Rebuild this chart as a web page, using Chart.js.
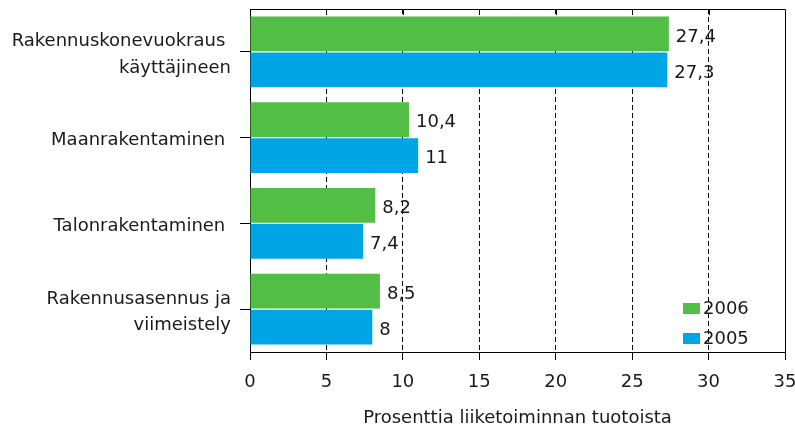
<!DOCTYPE html>
<html>
<head>
<meta charset="utf-8">
<script src="https://cdn.jsdelivr.net/npm/chart.js@4.4.1/dist/chart.umd.min.js"></script>
<style>
  html, body { margin: 0; padding: 0; background: #fff; }
  #wrap { width: 795px; height: 433px; position: relative; }
</style>
</head>
<body>
<div id="wrap"><canvas id="chart"></canvas></div>
<script>
const categories = [
    ['Rakennuskonevuokraus ', 'käyttäjineen'],
    'Maanrakentaminen ',
    'Talonrakentaminen ',
    ['Rakennusasennus ja', 'viimeistely']
];
const values2006 = [27.4, 10.4, 8.2, 8.5];
const values2005 = [27.3, 11, 7.4, 8];
const seriesLabels = ['2006', '2005'];
const xTicks = [0, 5, 10, 15, 20, 25, 30, 35];

const GREEN = '#52be45';
const BLUE = '#00a5e5';
const TEXT = '#1a1a1a';
const FONT = 'DejaVu Sans';

// value labels at the end of each bar
const valueLabels = {
    id: 'valueLabels',
    afterDatasetsDraw(chart) {
        const ctx = chart.ctx;
        ctx.save();
        ctx.font = `18px "${FONT}"`;
        ctx.fillStyle = TEXT;
        ctx.textBaseline = 'middle';
        chart.data.datasets.forEach((ds, i) => {
            chart.getDatasetMeta(i).data.forEach((bar, j) => {
                const txt = String(ds.data[j]).replace('.', ',');
                ctx.fillText(txt, bar.x + 7, bar.y + 3);
            });
        });
        ctx.restore();
    }
};

// top/right frame, inner ticks on top, and the legend inside the plot
const frameAndLegend = {
    id: 'frameAndLegend',
    afterDraw(chart) {
        const { ctx, chartArea: a } = chart;
        const xs = chart.scales.x;
        ctx.save();
        ctx.strokeStyle = '#000';
        ctx.lineWidth = 1;
        ctx.beginPath();
        ctx.moveTo(a.left, a.top + 0.5);
        ctx.lineTo(a.right + 0.5, a.top + 0.5);
        ctx.lineTo(a.right + 0.5, a.bottom);
        xTicks.slice(1, -1).forEach(v => {
            const px = Math.round(xs.getPixelForValue(v)) + 0.5;
            ctx.moveTo(px, a.top);
            ctx.lineTo(px, a.top + 6);
        });
        ctx.stroke();

        // legend
        const lx = a.right - 102;
        let ly = a.bottom - 44;
        ctx.font = `18px "${FONT}"`;
        ctx.textBaseline = 'middle';
        chart.data.datasets.forEach(ds => {
            ctx.fillStyle = ds.backgroundColor;
            ctx.fillRect(lx, ly - 5, 17, 11);
            ctx.fillStyle = TEXT;
            ctx.fillText(ds.label, lx + 20, ly + 1);
            ly += 30;
        });
        ctx.restore();
    }
};

new Chart(document.getElementById('chart'), {
    type: 'bar',
    data: {
        labels: categories,
        datasets: [
            { label: seriesLabels[0], data: values2006, backgroundColor: GREEN, borderWidth: 0 },
            { label: seriesLabels[1], data: values2005, backgroundColor: BLUE, borderWidth: 0 }
        ]
    },
    options: {
        indexAxis: 'y',
        responsive: true,
        maintainAspectRatio: false,
        animation: false,
        devicePixelRatio: 1,
        categoryPercentage: 0.84,
        barPercentage: 0.97,
        layout: { padding: { top: 9, right: 10, left: 0, bottom: 0 } },
        plugins: {
            legend: { display: false },
            tooltip: { enabled: false }
        },
        scales: {
            x: {
                min: 0,
                max: 35,
                afterBuildTicks(scale) {
                    scale.ticks = xTicks.map(v => ({ value: v }));
                },
                afterFit(scale) {
                    scale.height = 81;
                    scale.paddingLeft = 0;
                    scale.paddingRight = 0;
                },
                grid: {
                    color: c => (c.tick && (c.tick.value === 0 || c.tick.value === 35)) ? 'rgba(0,0,0,0)' : '#000',
                    tickColor: '#000',
                    tickLength: 8,
                    lineWidth: 1
                },
                border: { display: true, color: '#000', width: 1, dash: [5, 3] },
                ticks: {
                    color: TEXT,
                    font: { family: FONT, size: 18 },
                    padding: 12,
                    maxRotation: 0
                },
                title: {
                    display: true,
                    text: 'Prosenttia liiketoiminnan tuotoista',
                    color: TEXT,
                    font: { family: FONT, size: 18 },
                    padding: { top: 0, bottom: 4 }
                }
            },
            y: {
                afterFit(scale) {
                    scale.width = 250;
                    scale.paddingTop = 0;
                    scale.paddingBottom = 0;
                },
                grid: {
                    offset: false,
                    drawOnChartArea: false,
                    tickColor: '#000',
                    tickLength: 10
                },
                border: { display: true, color: '#000', width: 1 },
                ticks: {
                    color: TEXT,
                    font: { family: FONT, size: 18, lineHeight: 1.45 },
                    padding: 9,
                    labelOffset: 3
                }
            }
        }
    },
    plugins: [valueLabels, frameAndLegend]
});
</script>
</body>
</html>
